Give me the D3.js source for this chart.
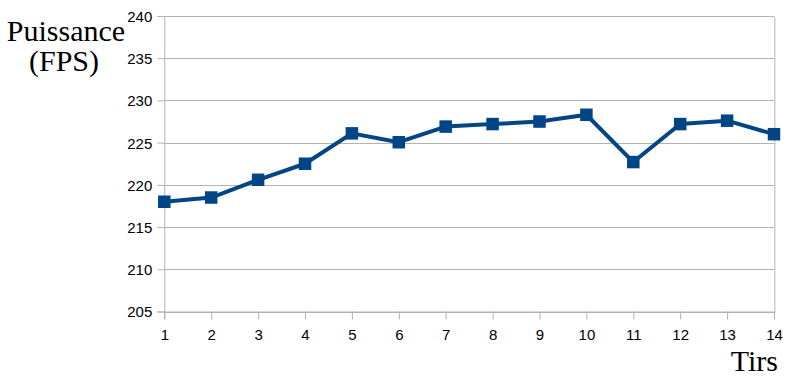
<!DOCTYPE html>
<html>
<head>
<meta charset="utf-8">
<script src="https://cdn.jsdelivr.net/npm/d3@7"></script>
<style>
  body { margin: 0; background: #fff; }
  svg { display: block; }
  .ttl { font-family: "Liberation Serif", "Times New Roman", "DejaVu Serif", serif; font-size: 30px; }
</style>
</head>
<body>
<svg id="chart"></svg>
<script>
// data
const tirs = [1, 2, 3, 4, 5, 6, 7, 8, 9, 10, 11, 12, 13, 14];
const puissance = [218.0, 218.5, 220.6, 222.5, 226.1, 225.05, 226.9, 227.2, 227.5, 228.3, 222.7, 227.2, 227.6, 226.0];
const yTicks = [205, 210, 215, 220, 225, 230, 235, 240];

const width = 806, height = 385;
const margin = { top: 16, right: 32, bottom: 73.5, left: 164.3 };
const w = width - margin.left - margin.right;
const h = height - margin.top - margin.bottom;

const svg = d3.select("#chart").attr("width", width).attr("height", height);
const g = svg.append("g").attr("transform", `translate(${margin.left}, ${margin.top})`);

const x = d3.scaleLinear().domain([1, 14]).range([0, w]);
const y = d3.scaleLinear().domain([205, 240]).range([h, 0]);

const grid = "#b3b3b3";
const sans = "'Liberation Sans', Arial, sans-serif";

// horizontal grid lines
g.selectAll("line.grid")
    .data(yTicks)
    .join("line")
    .attr("class", "grid")
    .attr("x1", 0).attr("x2", w)
    .attr("y1", (d) => Math.round(y(d)) + 0.5)
    .attr("y2", (d) => Math.round(y(d)) + 0.5)
    .attr("stroke", grid);

// right border
g.append("line")
    .attr("x1", Math.round(w) + 0.5).attr("x2", Math.round(w) + 0.5)
    .attr("y1", Math.round(y(240)) + 0.5).attr("y2", Math.round(y(205)) + 0.5)
    .attr("stroke", grid);

const yAxis = g.append("g")
    .call(d3.axisLeft(y).tickValues(yTicks).tickSize(7).tickPadding(5).tickFormat(d3.format("d")));
const xAxis = g.append("g")
    .attr("transform", `translate(0, ${h})`)
    .call(d3.axisBottom(x).tickValues(tirs).tickSize(8).tickPadding(9.5).tickFormat(d3.format("d")));

[yAxis, xAxis].forEach((a) => {
    a.attr("font-family", null).attr("font-size", null);
    a.select(".domain").attr("stroke", grid);
    a.selectAll(".tick line").attr("stroke", grid);
    a.selectAll(".tick text").attr("fill", "#000").style("font-family", sans).style("font-size", "15px");
});
yAxis.selectAll(".tick text").attr("dy", "0.36em");

// series
g.append("path")
    .datum(tirs.map((t, i) => [t, puissance[i]]))
    .attr("fill", "none")
    .attr("stroke", "#004586")
    .attr("stroke-width", 4)
    .attr("stroke-linejoin", "round")
    .attr("d", d3.line().x((d) => x(d[0])).y((d) => y(d[1])));

const sq = 12.5;
g.selectAll("rect.pt")
    .data(tirs)
    .join("rect")
    .attr("class", "pt")
    .attr("x", (d) => x(d) - sq / 2)
    .attr("y", (d, i) => y(puissance[i]) - sq / 2)
    .attr("width", sq).attr("height", sq)
    .attr("fill", "#004586");

// axis titles
const title = svg.append("text")
    .attr("class", "ttl")
    .attr("text-anchor", "middle")
    .attr("fill", "#000");
title.append("tspan").attr("x", 66).attr("y", 41).text("Puissance");
title.append("tspan").attr("x", 64).attr("y", 71).text("(FPS)");

svg.append("text")
    .attr("class", "ttl")
    .attr("x", 778).attr("y", 371)
    .attr("text-anchor", "end")
    .attr("fill", "#000")
    .text("Tirs");
</script>
</body>
</html>
